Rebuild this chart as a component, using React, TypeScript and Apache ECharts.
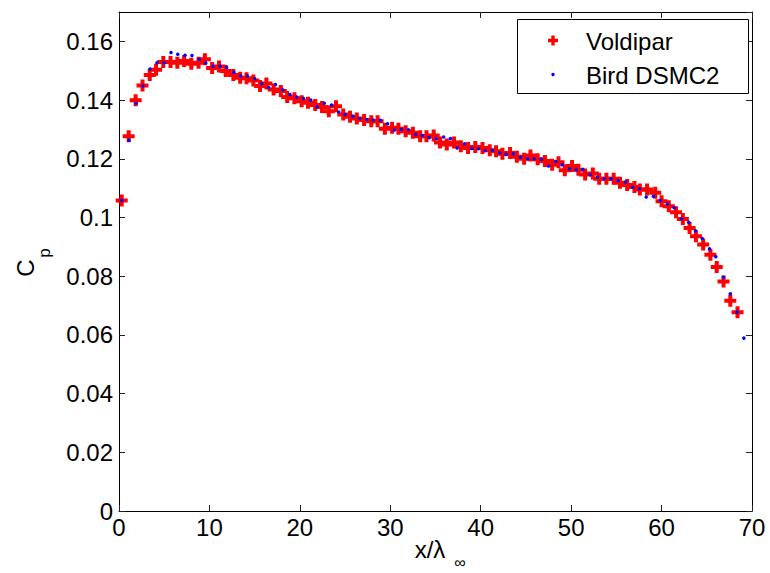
import React, { useEffect, useRef } from "react";
import * as echarts from "echarts";

const voldiparX = [0.3,1.07,1.84,2.6,3.4,4.1,4.9,5.7,6.45,7.2,8.0,8.8,9.5,10.3,11.06,11.8,12.65,13.4,14.1,14.86,15.6,16.3,17.1,17.9,18.6,19.4,20.2,20.9,21.7,22.45,23.2,24.0,24.8,25.55,26.3,27.1,27.9,28.6,29.4,30.2,30.9,31.7,32.5,33.3,34.0,34.8,35.5,36.25,37.05,37.8,38.6,39.4,40.2,41.0,41.7,42.4,43.25,44.0,44.8,45.5,46.3,47.1,47.9,48.6,49.3,50.1,50.8,51.55,52.4,53.1,53.9,54.7,55.4,56.2,57.0,57.6,58.4,59.3,60.0,60.8,61.6,62.35,63.1,63.8,64.6,65.4,66.1,66.85,67.6,68.4];
const voldiparCp = [0.1058,0.1277,0.1399,0.145,0.1485,0.1503,0.153,0.153,0.1527,0.1533,0.1524,0.1527,0.1539,0.1509,0.1514,0.1499,0.1485,0.1476,0.1474,0.1467,0.1448,0.1456,0.1436,0.1431,0.141,0.1406,0.1396,0.1391,0.1383,0.1376,0.1362,0.1379,0.1351,0.1343,0.1337,0.1332,0.1328,0.1328,0.1302,0.1306,0.1302,0.1294,0.1289,0.1277,0.1277,0.1279,0.1255,0.1249,0.1255,0.1243,0.1237,0.124,0.1237,0.1229,0.1226,0.1217,0.122,0.1207,0.12,0.1211,0.1198,0.1192,0.118,0.1188,0.1161,0.1175,0.1163,0.1146,0.115,0.1132,0.1132,0.1132,0.1118,0.1111,0.1104,0.1095,0.1095,0.1084,0.1055,0.1038,0.1018,0.0995,0.0964,0.0936,0.0908,0.0873,0.0831,0.0782,0.0716,0.0677];

const birdX = [0.3,1.1,1.9,2.65,3.43,4.2,4.98,5.75,6.5,7.3,8.07,8.85,9.6,10.4,11.17,11.9,12.7,13.45,14.2,15.0,15.8,16.55,17.3,18.1,18.9,19.65,20.4,21.2,21.9,22.7,23.5,24.3,25.0,25.85,26.6,27.4,28.1,28.9,29.7,30.45,31.2,32.0,32.8,33.55,34.3,35.1,35.9,36.65,37.4,38.2,39.0,39.75,40.5,41.3,42.1,42.8,43.6,44.4,45.2,45.9,46.7,47.5,48.3,49.0,49.8,50.55,51.3,52.1,52.9,53.65,54.4,55.2,56.0,56.8,57.55,58.3,59.1,59.85,60.65,61.4,62.2,63.0,63.75,64.5,65.3,66.0,66.85,67.6,68.35,69.1];
const birdCp = [0.1058,0.1263,0.1388,0.1448,0.1506,0.1527,0.1527,0.1562,0.1556,0.1553,0.1552,0.1539,0.1526,0.1515,0.1515,0.1511,0.1495,0.1483,0.1482,0.1473,0.1456,0.1443,0.1453,0.1435,0.1419,0.141,0.1405,0.14,0.1376,0.1389,0.1383,0.1359,0.1351,0.1345,0.1337,0.1334,0.1332,0.1331,0.1319,0.1298,0.13,0.1299,0.1283,0.1279,0.1272,0.1268,0.1274,0.1269,0.1237,0.1251,0.1235,0.1234,0.1228,0.1229,0.122,0.1215,0.1217,0.1205,0.12,0.12,0.1198,0.1175,0.1191,0.118,0.1166,0.1163,0.1163,0.1146,0.1138,0.1132,0.1132,0.1126,0.1121,0.1103,0.1098,0.107,0.1072,0.1058,0.1046,0.1033,0.0996,0.0984,0.0955,0.0928,0.0893,0.0866,0.0796,0.074,0.0677,0.0589];

const seriesNames = ["Voldipar", "Bird DSMC2"];
const xRange = [0, 70];
const yRange = [0, 0.17];
const xStep = 10;
const yStep = 0.02;

const FONT = "Liberation Sans, Arial, Helvetica, sans-serif";
const PLUS = "path://M4,0H8V4H12V8H8V12H4V8H0V4H4Z";

export default function App() {
  const ref = useRef<HTMLDivElement>(null);
  useEffect(() => {
    if (!ref.current) return;
    const chart = echarts.init(ref.current, null, { renderer: "svg" });
    const zip = (xs: number[], ys: number[]) => xs.map((x, i) => [x, ys[i]]);
    const axisCommon = {
      type: "value" as const,
      axisLine: { show: true, onZero: false, lineStyle: { color: "#000", width: 1 } },
      axisTick: { show: true, inside: true, length: 6, lineStyle: { color: "#222", width: 1 } },
      splitLine: { show: false },
    };
    const label = { color: "#000", fontSize: 24, fontFamily: FONT };
    chart.setOption({
      animation: false,
      backgroundColor: "#fff",
      grid: { left: 119, right: 18, top: 12, bottom: 62, containLabel: false },
      xAxis: [
        { ...axisCommon, position: "bottom", min: xRange[0], max: xRange[1], interval: xStep,
          axisLabel: { ...label, margin: 4 } },
        { ...axisCommon, position: "top", min: xRange[0], max: xRange[1], interval: xStep,
          axisLabel: { show: false } },
      ],
      yAxis: [
        { ...axisCommon, position: "left", min: yRange[0], max: yRange[1], interval: yStep,
          axisLabel: { ...label, margin: 6, showMaxLabel: false } },
        { ...axisCommon, position: "right", min: yRange[0], max: yRange[1], interval: yStep,
          axisLabel: { show: false } },
      ],
      series: [
        { name: seriesNames[0], type: "scatter", xAxisIndex: 0, yAxisIndex: 0,
          symbol: PLUS, symbolSize: 12, itemStyle: { color: "#ff0000", opacity: 1 },
          data: zip(voldiparX, voldiparCp) },
        { name: seriesNames[1], type: "scatter", xAxisIndex: 0, yAxisIndex: 0,
          symbol: "circle", symbolSize: 3.5, itemStyle: { color: "#0000ff", opacity: 1 },
          data: zip(birdX, birdCp) },
      ],
      graphic: [
        { type: "rect", shape: { x: 517.5, y: 19.5, width: 231, height: 74 },
          style: { fill: "#fff", stroke: "#000", lineWidth: 1 }, z: 100 },
        { type: "polygon", x: 553, y: 40.5, z: 101,
          shape: { points: [[-1.7,-5],[1.7,-5],[1.7,-1.7],[5,-1.7],[5,1.7],[1.7,1.7],[1.7,5],[-1.7,5],[-1.7,1.7],[-5,1.7],[-5,-1.7],[-1.7,-1.7]] },
          style: { fill: "#ff0000" } },
        { type: "circle", x: 553, y: 74.5, z: 101, shape: { cx: 0, cy: 0, r: 1.7 }, style: { fill: "#0000ff" } },
        { type: "text", x: 586, y: 41, z: 101,
          style: { text: seriesNames[0], fontSize: 24, fontFamily: FONT, fill: "#000", align: "left", verticalAlign: "middle" } },
        { type: "text", x: 586, y: 75, z: 101,
          style: { text: seriesNames[1], fontSize: 24, fontFamily: FONT, fill: "#000", align: "left", verticalAlign: "middle" } },
        { type: "text", x: 430, y: 549,
          style: { text: "x/λ", fontSize: 24, fontFamily: FONT, fill: "#000", align: "center", verticalAlign: "middle" } },
        { type: "text", x: 460, y: 562,
          style: { text: "∞", fontSize: 16, fontFamily: FONT, fill: "#000", align: "center", verticalAlign: "middle" } },
        { type: "text", x: 25, y: 268, rotation: Math.PI / 2,
          style: { text: "C", fontSize: 24, fontFamily: FONT, fill: "#000", align: "center", verticalAlign: "middle" } },
        { type: "text", x: 44, y: 253, rotation: Math.PI / 2,
          style: { text: "p", fontSize: 17, fontFamily: FONT, fill: "#000", align: "center", verticalAlign: "middle" } },
      ],
    });
    return () => chart.dispose();
  }, []);
  return <div ref={ref} style={{ position: "fixed", left: 0, top: 0, width: 770, height: 573 }} />;
}
